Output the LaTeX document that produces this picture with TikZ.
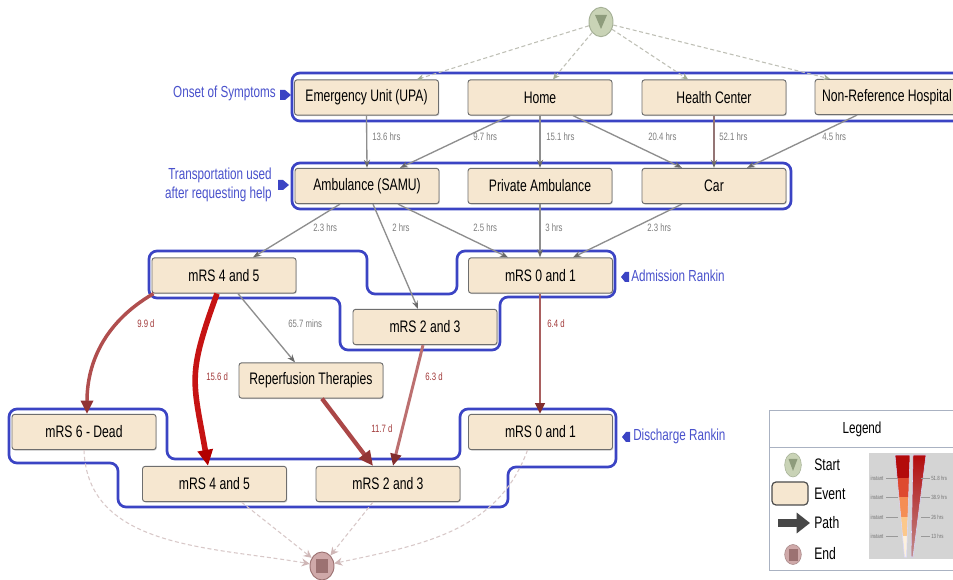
\documentclass[tikz,border=0pt]{standalone}
\usepackage{fontspec}
\setmainfont{Liberation Sans}[FakeStretch=0.73]
\usetikzlibrary{arrows.meta,calc,shapes.geometric,shadows}
\definecolor{evfill}{HTML}{F6E7D0}
\definecolor{evline}{HTML}{6E6E6E}
\definecolor{grpc}{HTML}{3B44C4}
\definecolor{grplblc}{HTML}{4A52CC}
\definecolor{timec}{HTML}{8E8E8E}
\definecolor{tipc}{HTML}{6A6A6A}
\definecolor{lblc}{HTML}{7E7E7E}
\definecolor{dayc}{HTML}{A23A3A}
\definecolor{startc}{HTML}{C9D3B6}
\definecolor{startd}{HTML}{8E9C7C}
\definecolor{endc}{HTML}{CFA9A9}
\definecolor{endd}{HTML}{9C7272}
\definecolor{dashs}{HTML}{BFC0B6}
\definecolor{dashe}{HTML}{D8C8C8}
\definecolor{legc}{HTML}{AAB2C2}
\definecolor{panelc}{HTML}{D4D4D4}
\definecolor{wa}{HTML}{B30B0B}
\definecolor{wb}{HTML}{DE4A30}
\definecolor{wc}{HTML}{F58E55}
\definecolor{wd}{HTML}{FBC88C}
\definecolor{we}{HTML}{FDF1DD}

\begin{document}
\begin{tikzpicture}[x=0.75pt, y=0.75pt,
  event/.style={rectangle, rounded corners=2pt, draw=evline, line width=0.7pt,
    fill=evfill, minimum width=108pt, minimum height=26.5pt, inner sep=0pt,
    font=\fontsize{12.5}{14}\selectfont,
    drop shadow={shadow xshift=0.7pt, shadow yshift=-0.7pt, opacity=0.3}},
  grp/.style={draw=grpc, line width=2pt, rounded corners=6pt},
  grplbl/.style={text=grplblc, font=\fontsize{12}{14.25}\selectfont, inner sep=0pt},
  timeline/.style={draw=timec, line width=1pt, -{Stealth[length=6pt, width=4.5pt, color=tipc]}},
  startline/.style={draw=dashs, line width=0.8pt, dash pattern=on 3pt off 2pt,
    -{Stealth[length=5pt, width=4.5pt, color=startd!80]}},
  endline/.style={draw=dashe, line width=0.8pt, dash pattern=on 3pt off 2pt,
    -{Stealth[length=6pt, width=6pt, color=endc!90!black!70]}},
  tlbl/.style={text=lblc, font=\fontsize{8}{9}\selectfont, anchor=west, inner sep=0pt},
  dlbl/.style={tlbl, text=dayc},
  tinylbl/.style={text=black!55, font=\fontsize{4.5}{5}\selectfont, inner sep=0pt},
  legtext/.style={font=\fontsize{12.5}{14}\selectfont, anchor=west, inner sep=0pt}]

  \path[use as bounding box, fill=white] (0,0) rectangle (953,-580);
  \clip (0,0) rectangle (953,-580);

  % group outlines
  \draw[grp] (292,-73) rectangle (975,-121);
  \draw[grp] (292,-163) rectangle (791,-209);
  \draw[grp] (250,-251) -- (367,-251) -- (367,-294) -- (457,-294) -- (457,-251)
    -- (615,-251) -- (615,-297) -- (500,-297) -- (500,-350) -- (340,-350)
    -- (340,-298) -- (149,-298) -- (149,-251) -- cycle;
  \draw[grp] (80,-409) -- (167,-409) -- (167,-459) -- (460,-459) -- (460,-409)
    -- (616,-409) -- (616,-467) -- (508,-467) -- (508,-507) -- (118,-507)
    -- (118,-463) -- (9,-463) -- (9,-409) -- cycle;

  % group labels
  \node[grplbl, anchor=east] (onset) at (276,-93) {Onset of Symptoms};
  \fill[grpc] (280,-90) -- (285,-90) -- (291,-95) -- (285,-100) -- (280,-100) -- cycle;
  \node[grplbl, anchor=east, align=right] (transp) at (272,-185) {Transportation used\\after requesting help};
  \fill[grpc] (278,-180) -- (283,-180) -- (289,-185) -- (283,-190) -- (278,-190) -- cycle;
  \node[grplbl, anchor=west] (admlbl) at (631,-276) {Admission Rankin};
  \fill[grpc] (629,-272) -- (625,-272) -- (621,-277) -- (625,-282) -- (629,-282) -- cycle;
  \node[grplbl, anchor=west] (dislbl) at (633,-436) {Discharge Rankin};
  \fill[grpc] (630,-432) -- (626,-432) -- (622,-437) -- (626,-442) -- (630,-442) -- cycle;

  % start and end
  \node[ellipse, draw=startd!80, fill=startc, line width=0.7pt, minimum width=18pt,
    minimum height=22pt, inner sep=0pt] (start) at (601,-22) {};
  \fill[startd] ($(start)+(-6,7)$) -- ($(start)+(6,7)$) -- ($(start)+(0,-7)$) -- cycle;
  \node[ellipse, draw=endd, fill=endc, line width=0.7pt, minimum width=18pt,
    minimum height=21pt, inner sep=0pt] (end) at (322,-566) {};
  \fill[endd] ($(end)+(-6,-7)$) rectangle ($(end)+(6,7)$);

  % events
  \node[event] (eu)   at (366.5,-97.5) {Emergency Unit (UPA)};
  \node[event] (home) at (540,-97.5)   {Home};
  \node[event] (hc)   at (714,-97.5)   {Health Center};
  \node[event] (nrh)  at (887,-97)     {Non-Reference Hospital};
  \node[event] (amb)  at (367,-186)    {Ambulance (SAMU)};
  \node[event] (priv) at (540,-186)    {Private Ambulance};
  \node[event] (car)  at (714,-186)    {Car};
  \node[event] (adm45) at (224,-275.5) {mRS 4 and 5};
  \node[event] (adm01) at (540.5,-275.5) {mRS 0 and 1};
  \node[event] (adm23) at (425,-327)   {mRS 2 and 3};
  \node[event] (rep)  at (311,-380.5)  {Reperfusion Therapies};
  \node[event] (dead) at (84,-432)     {mRS 6 - Dead};
  \node[event] (dis01) at (540.5,-432) {mRS 0 and 1};
  \node[event] (dis45) at (214.5,-484) {mRS 4 and 5};
  \node[event] (dis23) at (388,-484)   {mRS 2 and 3};

  % start paths
  \draw[startline] (start) -- ($(eu.north)+(50.5,0)$);
  \draw[startline] (start) -- ($(home.north)+(13,0)$);
  \draw[startline] (start) -- ($(hc.north)+(-26,0)$);
  \draw[startline] (start) -- ($(nrh.north)+(-57,0)$);

  % onset -> transport
  \draw[timeline] (eu.south) -- (amb.north);
  \draw[timeline] ($(home.south)+(-30,0)$) -- ($(amb.north)+(33,0)$);
  \draw[timeline] (home.south) -- (priv.north);
  \draw[timeline] ($(home.south)+(33,0)$) -- ($(car.north)+(-32,0)$);
  \draw[timeline, draw=timec!70!dayc] (hc.south) -- (car.north);
  \draw[timeline] ($(nrh.south)+(-30,0)$) -- ($(car.north)+(33,0)$);
  \node[tlbl] (t1) at (372,-137) {13.6 hrs};
  \node[tlbl] (t2) at (473,-137) {9.7 hrs};
  \node[tlbl] (t3) at (546,-137) {15.1 hrs};
  \node[tlbl] (t4) at (648,-137) {20.4 hrs};
  \node[tlbl] (t5) at (719,-137) {52.1 hrs};
  \node[tlbl] (t6) at (822,-137) {4.5 hrs};

  % transport -> admission
  \draw[timeline] ($(amb.south)+(-27,0)$) -- ($(adm45.north)+(29,0)$);
  \draw[timeline] ($(amb.south)+(6,0)$) -- ($(adm23.north)+(-7,0)$);
  \draw[timeline] ($(amb.south)+(31,0)$) -- ($(adm01.north)+(-32.5,0)$);
  \draw[timeline] (priv.south) -- ($(adm01.north)+(-0.5,0)$);
  \draw[timeline] ($(car.south)+(-32,0)$) -- ($(adm01.north)+(32.5,0)$);
  \draw[timeline] ($(adm45.south)+(14,0)$) -- ($(rep.north)+(-16,0)$);
  \node[tlbl] (t7)  at (313,-228) {2.3 hrs};
  \node[tlbl] (t8)  at (392,-228) {2 hrs};
  \node[tlbl] (t9)  at (473,-228) {2.5 hrs};
  \node[tlbl] (t10) at (545,-228) {3 hrs};
  \node[tlbl] (t11) at (647,-228) {2.3 hrs};
  \node[tlbl] (t12) at (288,-324) {65.7 mins};

  % admission -> discharge
  \draw[draw=dayc!85!pink, line width=2.6pt,
    -{Triangle[length=10pt, width=9pt, color=dayc!90!black]}]
    ($(adm45.south west)+(2,0)$) to[out=210, in=90] ($(dead.north)+(3,0)$);
  \draw[draw=red!75!black!90!pink, line width=4.2pt,
    -{Triangle[length=12pt, width=11pt, color=red!70!black]}]
    ($(adm45.south)+(-7,0)$) to[out=250, in=100, looseness=1.3] ($(dis45.north)+(-6.5,0)$);
  \draw[draw=dayc!90!pink, line width=3.2pt,
    -{Triangle[length=11pt, width=10pt, color=dayc!90!black]}]
    ($(rep.south)+(11,0)$) -- ($(dis23.north)+(-15,0)$);
  \draw[draw=dayc!50!pink!90!black, line width=2.2pt,
    -{Triangle[length=9pt, width=8pt, color=dayc!80!black]}]
    ($(adm23.south)+(-2,0)$) -- ($(dis23.north)+(5,0)$);
  \draw[draw=dayc!60!pink!85!black, line width=1.8pt,
    -{Triangle[length=8pt, width=7pt, color=dayc!80!black]}]
    ($(adm01.south)+(-0.5,0)$) -- ($(dis01.north)+(-0.5,0)$);
  \node[dlbl] (d1) at (137,-324) {9.9 d};
  \node[dlbl] (d2) at (206,-377) {15.6 d};
  \node[dlbl] (d3) at (371,-429) {11.7 d};
  \node[dlbl] (d4) at (425,-377) {6.3 d};
  \node[dlbl] (d5) at (547,-324) {6.4 d};

  % discharge -> end
  \draw[endline] (dead.south) to[out=272, in=170] (end);
  \draw[endline] ($(dis45.south)+(27,0)$) -- (end);
  \draw[endline] ($(dis23.south)+(-15,0)$) -- (end);
  \draw[endline] ($(dis01.south)+(-13,0)$) to[out=250, in=12] (end);

  % legend
  \draw[legc, line width=0.6pt, fill=white] (769,-410) rectangle (980,-570);
  \draw[legc, line width=0.6pt] (769,-447) -- (980,-447);
  \node[font=\fontsize{12}{14}\selectfont] (legtitle) at (862,-429) {Legend};
  \node[ellipse, draw=startd!80, fill=startc, minimum width=12.5pt, minimum height=18pt,
    inner sep=0pt] (legstart) at (793,-465) {};
  \fill[startd] ($(legstart)+(-4.5,6)$) -- ($(legstart)+(4.5,6)$) -- ($(legstart)+(0,-6)$) -- cycle;
  \node[legtext] (lstart) at (814,-465) {Start};
  \draw[black!70, line width=0.9pt, fill=evfill, rounded corners=3pt] (772,-482) rectangle (808,-505);
  \node[legtext] (levent) at (814,-494) {Event};
  \draw[black!72, line width=6.5pt, -{Triangle[length=10pt, width=15pt, color=black!72]}]
    (778,-523) -- (810,-523);
  \node[legtext] (lpath) at (814,-523) {Path};
  \node[ellipse, draw=endc!80!black, fill=endc, minimum width=12.5pt, minimum height=15pt,
    inner sep=0pt] (legend) at (793,-554.5) {};
  \fill[endd] ($(legend)+(-4.5,-6)$) rectangle ($(legend)+(4.5,6)$);
  \node[legtext] (lend) at (814,-554) {End};

  % colour scale
  \fill[panelc] (869,-453) rectangle (975,-559);
  \begin{scope}
    \clip (895,-455) -- (910,-455) -- (906.5,-557) -- (904.5,-557) -- cycle;
    \foreach \ya/\yb/\cc in {455/478/wa, 478/497/wb, 497/517/wc, 517/536/wd, 536/558/we}
      \fill[\cc] (890,-\ya) rectangle (915,-\yb);
  \end{scope}
  \draw[white!85!blue, line width=0.4pt] (895,-455) -- (910,-455) -- (906.5,-557) -- (904.5,-557) -- cycle;
  \shade[top color=wa, bottom color=black!55!red!45, draw=white!85!blue, line width=0.4pt]
    (913,-455) -- (926,-455) -- (913,-557) -- (911,-557) -- cycle;
  \foreach \yy/\tv in {478/51.8 hrs, 497/38.9 hrs, 517/26 hrs, 536/13 hrs} {
    \draw[black!40, line width=0.3pt] (886,-\yy) -- (898,-\yy);
    \node[tinylbl] (li\yy) at (877,-\yy) {instant};
    \draw[black!40, line width=0.3pt] (921,-\yy) -- (930,-\yy);
    \node[tinylbl, anchor=west] (ri\yy) at (931,-\yy) {\tv};
  }
\end{tikzpicture}
\end{document}
